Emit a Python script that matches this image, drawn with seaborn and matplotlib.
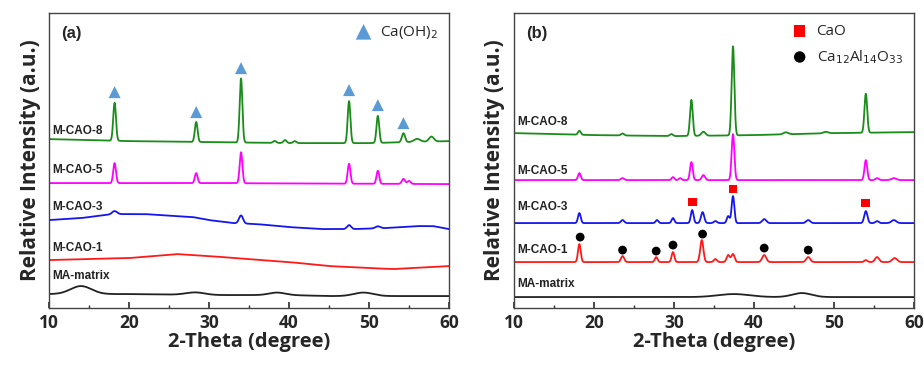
import numpy as np
import pandas as pd
import matplotlib
matplotlib.use("Agg")
import matplotlib.pyplot as plt
import seaborn as sns

# ---- data (intensity in arbitrary units, stacked offsets included) ----
# panel (a): baseline knots and peaks (position, height, width)
a8_knot_x = [10, 20, 30, 40, 50, 60]
a8_knot_y = [169, 167, 166, 165, 165, 167]
a8_peak_x = [18.2, 28.4, 34.0, 38.2, 39.5, 40.7, 47.5, 51.1, 54.3, 56.0, 57.8]
a8_peak_h = [38, 20, 64, 2, 3, 2, 42, 27, 9, 3, 5]
a8_peak_w = [0.17, 0.17, 0.17, 0.2, 0.2, 0.2, 0.17, 0.17, 0.2, 0.4, 0.3]

a5_knot_x = [10, 30, 60]
a5_knot_y = [125, 125, 124]
a5_peak_x = [18.2, 28.4, 34.0, 47.5, 51.1, 54.3, 55.0]
a5_peak_h = [20, 10, 31, 20, 13, 5, 3]
a5_peak_w = [0.17, 0.17, 0.17, 0.17, 0.17, 0.2, 0.2]

a3_knot_x = [10, 14, 18, 22, 26, 28, 30, 33, 36, 40, 44, 48, 52, 56, 58, 60]
a3_knot_y = [88, 90, 94, 94, 92, 91, 88, 85, 84, 81, 79, 79, 80, 82, 82, 79]
a3_peak_x = [18.2, 34.0, 47.5, 51.1]
a3_peak_h = [3, 8, 4, 2]
a3_peak_w = [0.3, 0.25, 0.25, 0.3]

a1_knot_x = [10, 15, 20, 26, 30, 35, 40, 45, 50, 53, 60]
a1_knot_y = [48, 49, 50, 54, 52, 49, 46, 42, 40, 39, 42]

am_knot_x = [10, 20, 30, 40, 45, 55, 60]
am_knot_y = [14, 14, 13, 13, 12, 12, 12]
am_peak_x = [14.0, 28.3, 38.5, 49.3]
am_peak_h = [8, 2.5, 2.5, 3.5]
am_peak_w = [1.3, 1.2, 1.0, 1.2]

# panel (b)
b8_knot_x = [10, 20, 30, 40, 50, 60]
b8_knot_y = [175, 173, 172, 173, 175, 176]
b8_peak_x = [18.2, 23.6, 29.7, 32.2, 33.7, 37.4, 44.0, 49.0, 54.0]
b8_peak_h = [4, 2, 2, 36, 4, 89, 2, 1.5, 39]
b8_peak_w = [0.17, 0.2, 0.2, 0.17, 0.25, 0.17, 0.3, 0.3, 0.17]

b5_knot_x = [10, 60]
b5_knot_y = [128, 128]
b5_peak_x = [18.2, 23.6, 29.9, 30.8, 32.2, 33.7, 37.4, 54.0, 55.4, 57.5]
b5_peak_h = [7, 2, 3, 2, 18, 5, 46, 20, 2, 2]
b5_peak_w = [0.17, 0.2, 0.17, 0.17, 0.17, 0.2, 0.17, 0.17, 0.2, 0.3]

b3_knot_x = [10, 60]
b3_knot_y = [85, 85]
b3_peak_x = [18.2, 23.6, 27.9, 29.9, 32.3, 33.6, 35.2, 36.8, 37.4, 41.3, 46.8, 54.0, 55.4, 57.5]
b3_peak_h = [10, 3, 3, 5, 13, 11, 2, 7, 27, 4, 3, 12, 2, 3]
b3_peak_w = [0.17, 0.2, 0.17, 0.17, 0.17, 0.2, 0.2, 0.17, 0.17, 0.25, 0.25, 0.2, 0.2, 0.3]

b1_knot_x = [10, 60]
b1_knot_y = [46, 46]
b1_peak_x = [18.2, 23.6, 27.8, 29.9, 33.5, 35.2, 36.8, 37.4, 41.3, 46.8, 54.0, 55.4, 57.6]
b1_peak_h = [18, 6, 5, 10, 22, 3, 7, 8, 7, 5, 2, 5, 4]
b1_peak_w = [0.17, 0.2, 0.17, 0.17, 0.2, 0.2, 0.2, 0.2, 0.25, 0.25, 0.2, 0.25, 0.3]

bm_knot_x = [10, 60]
bm_knot_y = [11, 11]
bm_peak_x = [37.5, 46.0]
bm_peak_h = [3, 4]
bm_peak_w = [2.0, 1.2]

# phase markers
ch_x = [18.2, 28.4, 34.0, 47.5, 51.1, 54.3]
ch_y = [216, 196, 240, 218, 203, 185]
cao_x = [32.3, 37.4, 54.0]
cao_y = [106, 119, 105]
c12_x = [18.3, 23.6, 27.8, 29.9, 33.6, 41.3, 46.8]
c12_y = [71, 58, 57, 63, 74, 60, 58]

names = ["M-CAO-8", "M-CAO-5", "M-CAO-3", "M-CAO-1", "MA-matrix"]
colors = ["#1a8c1a", "#ff00ff", "#1515f0", "#ff1a1a", "#222222"]
label_y_a = [177, 138, 101, 60, 32]
label_y_b = [186, 137, 101, 58, 24]

theta = np.linspace(10, 60, 2501)


def pattern(knot_x, knot_y, peak_x=(), peak_h=(), peak_w=()):
    y = np.interp(theta, knot_x, knot_y)
    for p, h, w in zip(peak_x, peak_h, peak_w):
        y = y + h * np.exp(-0.5 * ((theta - p) / w) ** 2)
    return y


panel_a = [
    pattern(a8_knot_x, a8_knot_y, a8_peak_x, a8_peak_h, a8_peak_w),
    pattern(a5_knot_x, a5_knot_y, a5_peak_x, a5_peak_h, a5_peak_w),
    pattern(a3_knot_x, a3_knot_y, a3_peak_x, a3_peak_h, a3_peak_w),
    pattern(a1_knot_x, a1_knot_y),
    pattern(am_knot_x, am_knot_y, am_peak_x, am_peak_h, am_peak_w),
]
panel_b = [
    pattern(b8_knot_x, b8_knot_y, b8_peak_x, b8_peak_h, b8_peak_w),
    pattern(b5_knot_x, b5_knot_y, b5_peak_x, b5_peak_h, b5_peak_w),
    pattern(b3_knot_x, b3_knot_y, b3_peak_x, b3_peak_h, b3_peak_w),
    pattern(b1_knot_x, b1_knot_y, b1_peak_x, b1_peak_h, b1_peak_w),
    pattern(bm_knot_x, bm_knot_y, bm_peak_x, bm_peak_h, bm_peak_w),
]

sns.set_theme(style="ticks")
plt.rcParams["font.family"] = ["Open Sans", "DejaVu Sans"]

fig = plt.figure(figsize=(9.24, 3.65), dpi=100)
ax_a = fig.add_axes([0.053, 0.156, 0.433, 0.808])
ax_b = fig.add_axes([0.556, 0.156, 0.433, 0.808])

for ax, curves, label_y, tag in [(ax_a, panel_a, label_y_a, "(a)"), (ax_b, panel_b, label_y_b, "(b)")]:
    for name, col, y, ly in zip(names, colors, curves, label_y):
        sns.lineplot(x=theta, y=y, ax=ax, color=col, linewidth=1.3, legend=False)
        ax.text(10.4, ly, name, fontsize=8.5, fontweight="bold", family="Liberation Sans",
                color="#222222", va="center", ha="left")
    ax.text(0.03, 0.93, tag, transform=ax.transAxes, fontsize=12, fontweight="bold",
            family="Liberation Sans", va="center", ha="left")
    ax.set_xlim(10, 60)
    ax.set_ylim(0, 295)
    ax.set_yticks([])
    ax.set_xticks([10, 20, 30, 40, 50, 60])
    ax.set_xticks([15, 25, 35, 45, 55], minor=True)
    ax.tick_params(axis="x", which="both", direction="in", labelsize=12.5, pad=4, color="#333333")
    ax.tick_params(axis="x", which="major", length=4)
    ax.tick_params(axis="x", which="minor", length=2.5)
    for lbl in ax.get_xticklabels():
        lbl.set_fontweight("bold")
    ax.set_xlabel("2-Theta (degree)", fontsize=14.5, fontweight="bold", labelpad=0)
    ax.set_ylabel("Relative Intensity (a.u.)", fontsize=15, fontweight="bold", labelpad=6)
    for sp in ax.spines.values():
        sp.set_color("#444444")
        sp.set_linewidth(1.0)

sns.scatterplot(x=ch_x, y=ch_y, ax=ax_a, marker="^", s=75, color="#5b9bd5", edgecolor="none",
                label="Ca(OH)$_2$")
sns.scatterplot(x=cao_x, y=cao_y, ax=ax_b, marker="s", s=40, color="#ff0000", edgecolor="none",
                label="CaO")
sns.scatterplot(x=c12_x, y=c12_y, ax=ax_b, marker="o", s=40, color="black", edgecolor="none",
                label="Ca$_{12}$Al$_{14}$O$_{33}$")

for ax in (ax_a, ax_b):
    leg = ax.legend(loc="upper right", frameon=False, fontsize=11, handletextpad=0.1,
                    borderaxespad=0.3, labelspacing=0.6, markerscale=1.3)

fig.savefig("out.png", dpi=100)
